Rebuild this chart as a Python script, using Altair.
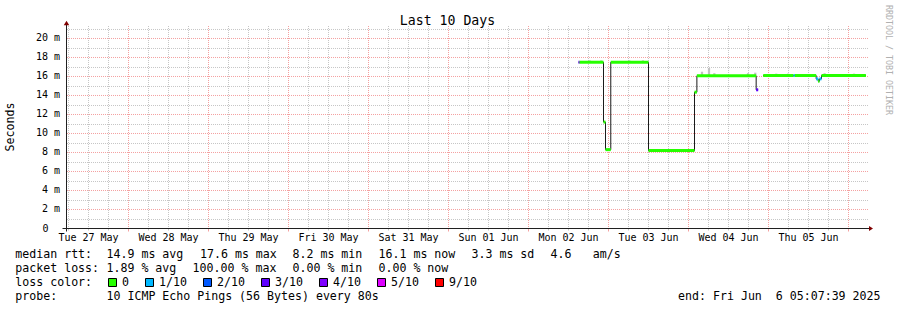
import altair as alt
import pandas as pd

MONO = "DejaVu Sans Mono"

# ---------------- values ----------------
# median RTT (ms) as step segments, UTC times, with the packet-loss bucket of each
seg_start = ["2025-06-02 15:00", "2025-06-02 15:20", "2025-06-02 22:30", "2025-06-02 23:06",
             "2025-06-03 00:41", "2025-06-03 12:00", "2025-06-04 01:48", "2025-06-04 02:31",
             "2025-06-04 20:18", "2025-06-04 22:25", "2025-06-05 07:32", "2025-06-05 07:54",
             "2025-06-05 14:18", "2025-06-05 14:54", "2025-06-05 15:18", "2025-06-05 15:54"]
seg_end = ["2025-06-02 15:20", "2025-06-02 22:30", "2025-06-02 23:06", "2025-06-03 00:41",
           "2025-06-03 12:00", "2025-06-04 01:48", "2025-06-04 02:31", "2025-06-04 20:18",
           "2025-06-04 20:54", "2025-06-05 07:32", "2025-06-05 07:54", "2025-06-05 14:18",
           "2025-06-05 14:54", "2025-06-05 15:18", "2025-06-05 15:54", "2025-06-06 05:13"]
seg_value = [17.5, 17.5, 11.2, 8.3, 17.5, 8.2, 14.35, 16.07, 14.6, 16.1, 16.1, 16.1,
             15.75, 15.5, 15.75, 16.1]
seg_loss = ["3/10", "0", "0", "0", "0", "0", "0", "0", "3/10", "0", "1/10", "0",
            "1/10", "0", "1/10", "0"]
seg_run = [1, 1, 1, 1, 1, 1, 1, 1, 1, 2, 2, 2, 2, 2, 2, 2]

# smoke (spread of the pings) above the median
smoke_time = ["2025-06-02 18:00", "2025-06-02 21:30", "2025-06-03 05:54", "2025-06-03 10:00",
              "2025-06-04 03:43", "2025-06-04 05:49", "2025-06-04 07:25", "2025-06-04 17:31",
              "2025-06-04 19:42", "2025-06-05 02:00", "2025-06-05 05:31", "2025-06-05 16:30",
              "2025-06-06 01:19"]
smoke_low = [17.5, 17.5, 17.5, 17.5, 16.1, 16.1, 16.1, 16.1, 16.1, 16.1, 16.1, 16.1, 16.1]
smoke_high = [17.7, 17.7, 17.7, 17.7, 16.5, 16.9, 16.35, 16.35, 16.4, 16.3, 16.3, 16.35, 16.3]

loss_labels = ["0", "1/10", "2/10", "3/10", "4/10", "5/10", "9/10"]
loss_colors = ["#26ff00", "#00b8ff", "#0059ff", "#5e00ff", "#7e00ff", "#dd00ff", "#ff0000"]

y_tick_values = [0, 2, 4, 6, 8, 10, 12, 14, 16, 18, 20]
y_minor_values = [1, 3, 5, 7, 9, 11, 13, 15, 17, 19, 21]
y_major_values = [2, 4, 6, 8, 10, 12, 14, 16, 18, 20]

range_start = "2025-05-27 05:24"
range_end = "2025-06-06 05:24"

title_text = "Last 10 Days"
y_title = "Seconds"
credit = "RRDTOOL / TOBI OETIKER"
row1 = ["median rtt:", "14.9 ms avg", "17.6 ms max", "8.2 ms min", "16.1 ms now",
        "3.3 ms sd", "4.6", "am/s"]
row2 = ["packet loss:", "1.89 % avg", "100.00 % max", "0.00 % min", "0.00 % now"]
row3_label = "loss color:"
row4 = ["probe:", "10 ICMP Echo Pings (56 Bytes) every 80s"]
end_text = "end: Fri Jun\u00a0 6 05:07:39 2025"

# ---------------- layout (pixels) ----------------
PAD_L, PAD_T = 66.5, 28.5
W, H = 800, 200
row1_x = [15.3, 106.5, 200, 292.5, 378.5, 471.5, 550.5, 592.8]
row2_x = [15.3, 106.5, 192.6, 292.5, 378.5]
row4_x = [15.3, 106.5]
row_base = [258, 272, 286, 300]


def ms(s):
    return int(pd.Timestamp(s).value // 10**6)


T0, T1 = ms(range_start), ms(range_end)
xs = alt.Scale(type="utc", domain=[T0, T1])
ys = alt.Scale(domain=[0, 21.05], nice=False, zero=False)

noon = [ms(t) for t in pd.date_range("2025-05-27 12:00", periods=10, freq="D")]
midn = [ms(t) for t in pd.date_range("2025-05-28 00:00", periods=10, freq="D")]
six = [ms(t) for t in pd.date_range("2025-05-27 06:00", "2025-06-06 05:00", freq="6h")
       if t.hour != 0]

GRID = "#c6c6c6"
MGRID = "#f4a0a0"

dummy = pd.DataFrame({"d": [0]})
layers = []

# vertical grid
layers.append(alt.Chart(pd.DataFrame({"t": six})).mark_rule(
    color=GRID, strokeDash=[1, 1], strokeWidth=1).encode(
    x=alt.X("t:T", scale=xs, axis=None), y=alt.value(-2.5), y2=alt.value(199.5)))
layers.append(alt.Chart(pd.DataFrame({"t": midn})).mark_rule(
    color=MGRID, strokeDash=[1, 1], strokeWidth=1).encode(
    x=alt.X("t:T", scale=xs, axis=None), y=alt.value(-2.5), y2=alt.value(199.5)))
# horizontal grid
layers.append(alt.Chart(pd.DataFrame({"v": y_minor_values})).mark_rule(
    color=GRID, strokeDash=[1, 1], strokeWidth=1, yOffset=0.5).encode(
    y=alt.Y("v:Q", scale=ys, axis=None), x=alt.value(0.5), x2=alt.value(801.5)))
layers.append(alt.Chart(pd.DataFrame({"v": y_major_values})).mark_rule(
    color=MGRID, strokeDash=[1, 1], strokeWidth=1).encode(
    y=alt.Y("v:Q", scale=ys, axis=None), x=alt.value(0.5), x2=alt.value(801.5)))
# axis ticks below the x axis
layers.append(alt.Chart(pd.DataFrame({"t": midn})).mark_rule(color=MGRID, strokeWidth=1).encode(
    x=alt.X("t:T", scale=xs, axis=None), y=alt.value(200), y2=alt.value(203)))
layers.append(alt.Chart(pd.DataFrame({"t": six})).mark_rule(color=GRID, strokeWidth=1).encode(
    x=alt.X("t:T", scale=xs, axis=None), y=alt.value(200), y2=alt.value(202)))

# tick labels, placed through the scales
layers.append(alt.Chart(pd.DataFrame({"t": noon})).transform_calculate(
    lab="utcFormat(datum.t, '%a %d %b')").mark_text(
    font=MONO, fontSize=10, align="center", baseline="alphabetic", color="#000000").encode(
    x=alt.X("t:T", scale=xs, axis=None), y=alt.value(241 - PAD_T), text="lab:N"))
ylab = alt.Chart(pd.DataFrame({"v": y_tick_values})).transform_calculate(
    lab="datum.v == 0 ? '0' : datum.v + ' m'")
layers.append(ylab.transform_filter("datum.v > 0").mark_text(
    font=MONO, fontSize=10, align="right", baseline="middle", color="#000000").encode(
    y=alt.Y("v:Q", scale=ys, axis=None), x=alt.value(60 - PAD_L), text="lab:N"))
layers.append(ylab.transform_filter("datum.v == 0").mark_text(
    font=MONO, fontSize=10, align="right", baseline="middle", color="#000000").encode(
    y=alt.Y("v:Q", scale=ys, axis=None), x=alt.value(48.5 - PAD_L), text="lab:N"))

# smoke
smoke_df = pd.DataFrame({"t0": [ms(t) for t in smoke_time],
                         "lo": smoke_low, "hi": smoke_high})
smoke_df["t1"] = smoke_df["t0"] + 40 * 60 * 1000
layers.append(alt.Chart(smoke_df).mark_rect(color="#c2c2c2").encode(
    x=alt.X("t0:T", scale=xs, axis=None), x2="t1:T",
    y=alt.Y("lo:Q", scale=ys, axis=None), y2="hi:Q"))

# black step line of the median
pts = []
for i, (s, e, v, r) in enumerate(zip(seg_start, seg_end, seg_value, seg_run)):
    pts.append({"t": ms(s), "v": v, "run": r, "o": 2 * i})
    pts.append({"t": ms(e), "v": v, "run": r, "o": 2 * i + 1})
layers.append(alt.Chart(pd.DataFrame(pts)).mark_line(color="#1a1a1a", strokeWidth=1).encode(
    x=alt.X("t:T", scale=xs, axis=None), y=alt.Y("v:Q", scale=ys, axis=None),
    detail="run:N", order="o:Q"))

# loss-coloured median
seg_df = pd.DataFrame({"start": [ms(t) for t in seg_start], "end": [ms(t) for t in seg_end],
                       "value": seg_value, "loss": seg_loss})
layers.append(alt.Chart(seg_df).mark_rule(strokeWidth=3, strokeCap="butt").encode(
    x=alt.X("start:T", scale=xs, axis=None), x2="end:T",
    y=alt.Y("value:Q", scale=ys, axis=None),
    color=alt.Color("loss:N", scale=alt.Scale(domain=loss_labels, range=loss_colors),
                    legend=None)))

# axis lines and arrows
layers.append(alt.Chart(dummy).mark_rule(color="#202020", strokeWidth=1).encode(
    x=alt.value(-4), x2=alt.value(803), y=alt.value(200)))
layers.append(alt.Chart(dummy).mark_rule(color="#202020", strokeWidth=1).encode(
    x=alt.value(0), y=alt.value(-4), y2=alt.value(203)))
layers.append(alt.Chart(dummy).mark_point(
    shape="M-0.8,-1L0.8,0L-0.8,1Z", filled=True, size=25, color="#800000", opacity=1).encode(
    x=alt.value(804.5), y=alt.value(200)))
layers.append(alt.Chart(dummy).mark_point(
    shape="M-1,0.8L0,-0.8L1,0.8Z", filled=True, size=30, color="#800000", opacity=1).encode(
    x=alt.value(0), y=alt.value(-5.5)))


def txt(xa, ya, s, size=11.6, align="left", baseline="alphabetic", angle=0, color="#000000"):
    return alt.Chart(dummy).mark_text(
        text=s, font=MONO, fontSize=size, align=align, baseline=baseline,
        angle=angle, color=color).encode(x=alt.value(xa - PAD_L), y=alt.value(ya - PAD_T))


layers.append(txt(447.5, 25, title_text, size=13.2, align="center"))
layers.append(txt(11, 127, y_title, size=11.6, align="center", baseline="middle", angle=270))
layers.append(txt(888, 60, credit, size=8.3, align="center", baseline="middle", angle=90,
                  color="#b0b0b0"))
for s, xa in zip(row1, row1_x):
    layers.append(txt(xa, row_base[0], s))
for s, xa in zip(row2, row2_x):
    layers.append(txt(xa, row_base[1], s))
layers.append(txt(15.3, row_base[2], row3_label))
for s, xa in zip(row4, row4_x):
    layers.append(txt(xa, row_base[3], s))
layers.append(txt(880.5, row_base[3], end_text, align="right"))

# loss colour legend boxes
sq = 108
for lab, col in zip(loss_labels, loss_colors):
    layers.append(alt.Chart(dummy).mark_rect(color=col, stroke="#000000", strokeWidth=1).encode(
        x=alt.value(sq + 0.5 - PAD_L), x2=alt.value(sq + 8.5 - PAD_L),
        y=alt.value(278.5 - PAD_T), y2=alt.value(286.5 - PAD_T)))
    layers.append(txt(sq + 14, row_base[2], lab))
    sq += 30 + 7 * len(lab)

chart = alt.layer(*layers).properties(
    width=W, height=H,
    padding={"left": PAD_L, "top": PAD_T, "right": 897 - PAD_L - W, "bottom": 310 - PAD_T - H},
    autosize=alt.AutoSizeParams(type="none"),
    background="white",
).configure_view(stroke=None)

chart.save("out.html", embed_options={"renderer": "svg", "actions": False})
